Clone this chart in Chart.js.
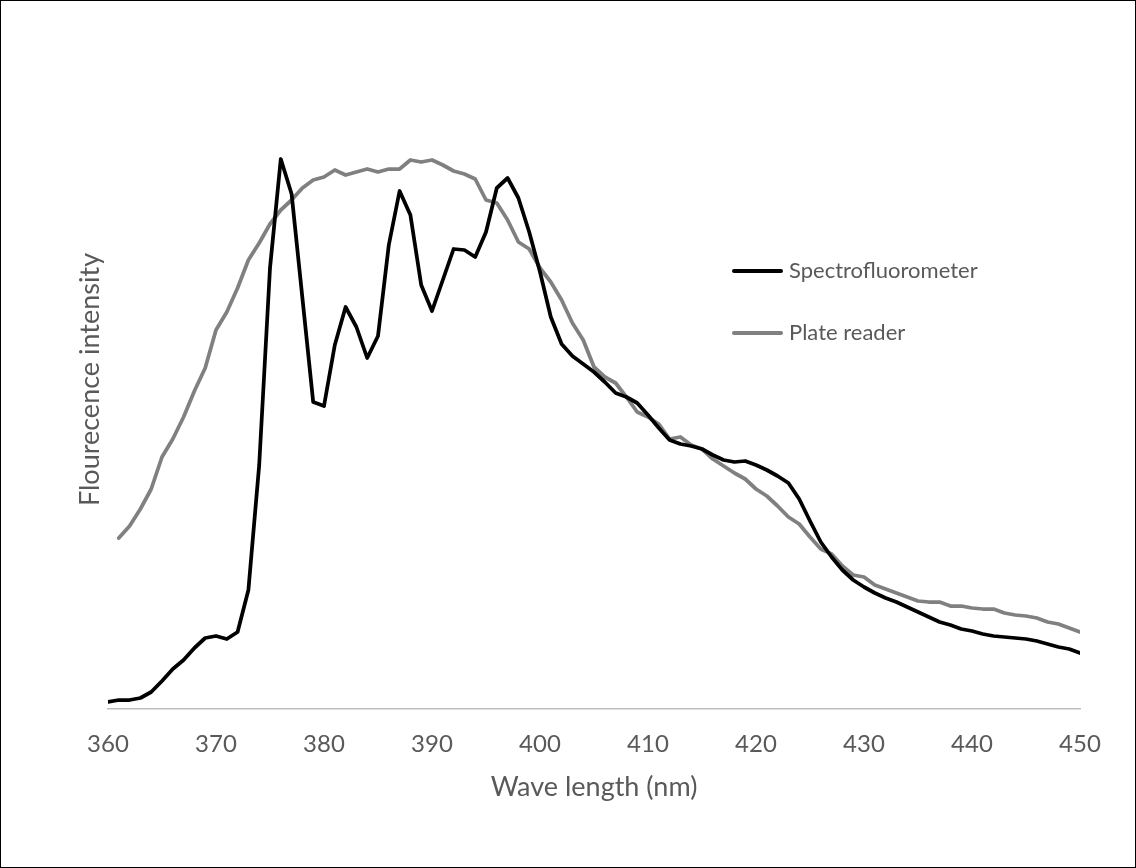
<!DOCTYPE html>
<html>
<head>
<meta charset="utf-8">
<script src="https://cdn.jsdelivr.net/npm/chart.js@4/dist/chart.umd.min.js"></script>
<style>
  html, body { margin: 0; padding: 0; background: #fff; }
  #wrap { position: relative; width: 1136px; height: 868px; }
  #frame { position: absolute; left: 0; top: 0; width: 1136px; height: 868px; box-sizing: border-box; border: 1px solid #000; pointer-events: none; }
  canvas { display: block; }
</style>
</head>
<body>
<div id="wrap">
  <canvas id="c" width="1136" height="868"></canvas>
  <div id="frame"></div>
</div>
<script>
// Wavelength categories (nm)
const wavelengths = [360,361,362,363,364,365,366,367,368,369,370,371,372,373,374,375,376,377,378,379,
  380,381,382,383,384,385,386,387,388,389,390,391,392,393,394,395,396,397,398,399,
  400,401,402,403,404,405,406,407,408,409,410,411,412,413,414,415,416,417,418,419,
  420,421,422,423,424,425,426,427,428,429,430,431,432,433,434,435,436,437,438,439,
  440,441,442,443,444,445,446,447,448,449,450];

// Spectrofluorometer intensity (arbitrary units)
const spectroValues = [7,9,9,11,17,28,40,49,61,71,73,70,77,119,244,441,550,515,411,307,
  303,364,402,382,351,373,464,518,494,424,398,429,460,459,452,477,521,531,511,477,
  437,392,365,353,345,337,327,316,312,306,294,281,269,265,263,260,254,249,247,248,
  244,239,233,226,210,188,167,152,139,129,122,116,111,107,102,97,92,87,84,80,
  78,75,73,72,71,70,68,65,62,60,56];

// Plate reader intensity (arbitrary units); no reading at 360 nm
const plateValues = [null,171,183,200,220,252,270,292,318,341,379,397,421,449,466,485,499,509,521,529,
  532,539,534,537,540,537,540,540,549,547,549,544,538,535,530,509,506,489,467,460,
  441,427,409,386,369,342,332,326,312,297,292,285,270,272,264,260,250,243,236,230,
  220,213,203,192,185,172,160,155,143,134,132,124,120,116,112,108,107,107,103,103,
  101,100,100,96,94,93,91,87,85,81,77];

const seriesNames = ['Spectrofluorometer', 'Plate reader'];
const xTicks = [360,370,380,390,400,410,420,430,440,450];
const xTitle = 'Wave length (nm)';
const yTitle = 'Flourecence intensity';

const toPoints = vals => wavelengths.map((w, i) => ({x: w, y: vals[i]}));

const FONT = 'Lato, "Open Sans", sans-serif';
const TXT = '#595959';

const legendPlugin = {
  id: 'innerLegend',
  afterDraw(chart) {
    const ctx = chart.ctx;
    const rows = [271, 333];
    ctx.save();
    chart.data.datasets.forEach((ds, i) => {
      const y = rows[i];
      ctx.strokeStyle = ds.borderColor;
      ctx.lineWidth = 4;
      ctx.lineCap = 'round';
      ctx.beginPath();
      ctx.moveTo(734, y);
      ctx.lineTo(781, y);
      ctx.stroke();
      ctx.fillStyle = TXT;
      ctx.font = '22px ' + FONT;
      ctx.textBaseline = 'middle';
      ctx.textAlign = 'left';
      ctx.fillText(ds.label, 789, y);
    });
    ctx.restore();
  }
};

new Chart(document.getElementById('c'), {
  type: 'line',
  data: {
    datasets: [
      { label: seriesNames[0], data: toPoints(spectroValues), borderColor: '#000000', backgroundColor: '#000000',
        borderWidth: 3.75, pointRadius: 0, tension: 0, borderJoinStyle: 'round', borderCapStyle: 'round', spanGaps: false },
      { label: seriesNames[1], data: toPoints(plateValues), borderColor: '#808080', backgroundColor: '#808080',
        borderWidth: 3.75, pointRadius: 0, tension: 0, borderJoinStyle: 'round', borderCapStyle: 'round', spanGaps: false }
    ]
  },
  options: {
    responsive: false,
    animation: false,
    devicePixelRatio: 1,
    layout: { padding: { left: 70, right: 56, top: 50, bottom: 0 } },
    plugins: { legend: { display: false }, tooltip: { enabled: false } },
    scales: {
      x: {
        type: 'linear', min: 360, max: 450,
        afterBuildTicks: s => { s.ticks = xTicks.map(v => ({value: v})); },
        afterFit: s => { s.height = 159; },
        grid: { display: false, drawTicks: false },
        border: { display: true, color: '#bfbfbf', width: 1.5 },
        ticks: { color: TXT, font: { family: FONT, size: 24 }, padding: 21, maxRotation: 0, autoSkip: false },
        title: { display: true, text: xTitle, color: TXT, font: { family: FONT, size: 27 }, padding: { top: 0, bottom: 65 } }
      },
      y: {
        min: 0, max: 659,
        afterFit: s => { s.width = 38; },
        grid: { display: false, drawTicks: false },
        border: { display: false },
        ticks: { display: false },
        title: { display: true, text: yTitle, color: TXT, font: { family: FONT, size: 27 }, padding: { top: 4, bottom: 4 } }
      }
    }
  },
  plugins: [legendPlugin]
});
</script>
</body>
</html>
